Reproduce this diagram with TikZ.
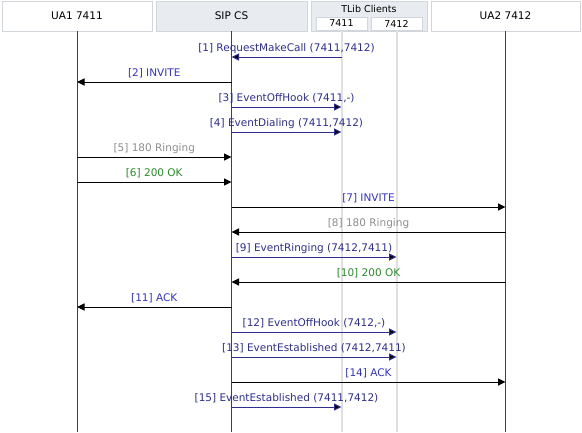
\documentclass[tikz,border=0pt]{standalone}
\usepackage{fontspec}
\setmainfont{DejaVu Sans}
\usetikzlibrary{arrows.meta}
\definecolor{navy}{HTML}{2E2E8E}
\definecolor{sipblue}{HTML}{3434C4}
\definecolor{msggray}{HTML}{8E8E8E}
\definecolor{msggreen}{HTML}{2A8A2A}
\definecolor{hdrborder}{HTML}{D2D6DA}
\definecolor{hdrfill}{HTML}{E8ECF0}
\definecolor{tlifecol}{HTML}{E0E0E0}
\tikzset{
  hdr/.style={draw=hdrborder, line width=0.8pt, fill=white, minimum height=30pt, inner sep=0pt, font=\fontsize{10.5}{12}\selectfont},
  hdrsh/.style={hdr, fill=hdrfill},
  sub/.style={draw=hdrborder, line width=0.8pt, fill=white, minimum width=51pt, minimum height=13pt, inner sep=0pt, font=\fontsize{9.5}{10}\selectfont},
  life/.style={draw=black!75, line width=1pt},
  tlife/.style={draw=tlifecol, line width=2pt},
  sipmsg/.style={draw=black, line width=1pt, -{Triangle[length=7.5pt,width=7pt]}},
  tlibmsg/.style={draw=navy, line width=1pt, -{Triangle[length=7.5pt,width=7pt,fill=black]}},
  lbl/.style={midway, anchor=base, yshift=6pt, inner sep=0pt, font=\fontsize{10.5}{12}\selectfont}
}
\begin{document}
\begin{tikzpicture}[x=1pt,y=-1pt]
\useasboundingbox (0,0) rectangle (582,432);
\fill[white] (0,0) rectangle (582,432);
% headers
\node[hdr, minimum width=150pt] (ua1) at (77,16) {UA1 7411};
\node[hdrsh, minimum width=151pt] (sip) at (231.5,16) {SIP CS};
\node[hdrsh, minimum width=116pt] (tlib) at (369,16) {};
\node[inner sep=0pt, font=\fontsize{9.5}{11}\selectfont] (tlibt) at (369,9) {TLib Clients};
\node[sub] (t11) at (341.5,23.5) {7411};
\node[sub] (t12) at (396.5,23.5) {7412};
\node[hdr, minimum width=149pt] (ua2) at (505.5,16) {UA2 7412};
\coordinate (bottom) at (0,432);
% lifelines
\draw[tlife] (t11.south) -- (t11.south |- bottom);
\draw[tlife] (t12.south) -- (t12.south |- bottom);
\draw[life] (ua1.south) -- (ua1.south |- bottom);
\draw[life] (sip.south) -- (sip.south |- bottom);
\draw[life] (ua2.south) -- (ua2.south |- bottom);
% rows
\foreach \i in {1,...,15} { \coordinate (r\i) at (0,{32+25*\i}); }
% messages
\draw[tlibmsg] (t11 |- r1) -- node[lbl, text=navy] {[1] RequestMakeCall (7411,7412)} (sip |- r1);
\draw[sipmsg] (sip |- r2) -- node[lbl, text=sipblue] {[2] INVITE} (ua1 |- r2);
\draw[tlibmsg] (sip |- r3) -- node[lbl, text=navy] {[3] EventOffHook (7411,-)} (t11 |- r3);
\draw[tlibmsg] (sip |- r4) -- node[lbl, text=navy] {[4] EventDialing (7411,7412)} (t11 |- r4);
\draw[sipmsg] (ua1 |- r5) -- node[lbl, text=msggray] {[5] 180 Ringing} (sip |- r5);
\draw[sipmsg] (ua1 |- r6) -- node[lbl, text=msggreen] {[6] 200 OK} (sip |- r6);
\draw[sipmsg] (sip |- r7) -- node[lbl, text=sipblue] {[7] INVITE} (ua2 |- r7);
\draw[sipmsg] (ua2 |- r8) -- node[lbl, text=msggray] {[8] 180 Ringing} (sip |- r8);
\draw[tlibmsg] (sip |- r9) -- node[lbl, text=navy] {[9] EventRinging (7412,7411)} (t12 |- r9);
\draw[sipmsg] (ua2 |- r10) -- node[lbl, text=msggreen] {[10] 200 OK} (sip |- r10);
\draw[sipmsg] (sip |- r11) -- node[lbl, text=sipblue] {[11] ACK} (ua1 |- r11);
\draw[tlibmsg] (sip |- r12) -- node[lbl, text=navy] {[12] EventOffHook (7412,-)} (t12 |- r12);
\draw[tlibmsg] (sip |- r13) -- node[lbl, text=navy] {[13] EventEstablished (7412,7411)} (t12 |- r13);
\draw[sipmsg] (sip |- r14) -- node[lbl, text=sipblue] {[14] ACK} (ua2 |- r14);
\draw[tlibmsg] (sip |- r15) -- node[lbl, text=navy] {[15] EventEstablished (7411,7412)} (t11 |- r15);
\end{tikzpicture}
\end{document}
